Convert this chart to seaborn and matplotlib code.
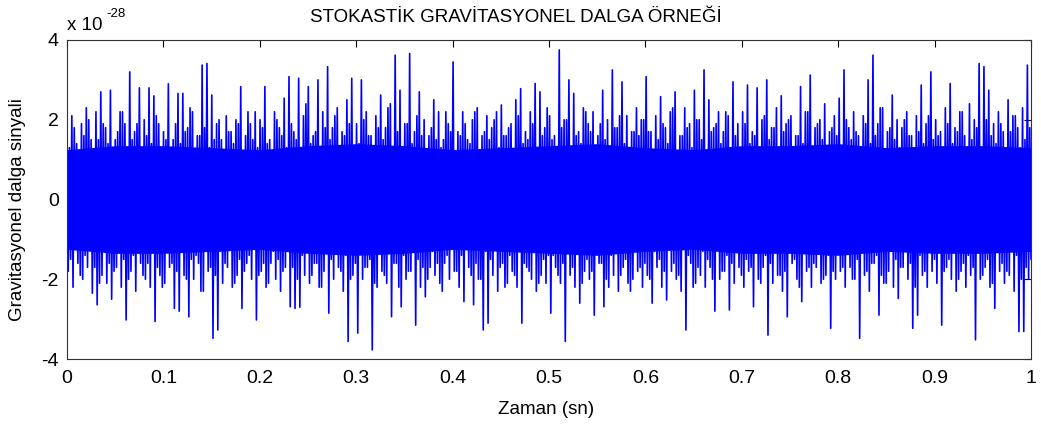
import numpy as np
import pandas as pd
import matplotlib
matplotlib.use("Agg")
import matplotlib.pyplot as plt
import seaborn as sns

# ---- data (signal in units of 1e-28), read/ ----
# large positive excursions, one every 0.005 s starting at t = 0
pos_peaks = [
    1.6, 2.1, 1.4, 1.9, 2.3, 1.5, 2.2, 2.7, 1.8, 2.74, 1.5, 2.2, 1.9, 3.2, 1.7, 2.8, 2.0, 2.8, 2.6, 1.9,
    1.7, 2.9, 1.5, 2.66, 2.66, 1.8, 2.2, 1.6, 3.37, 3.41, 2.62, 1.9, 1.5, 2.1, 1.7, 2.0, 2.83, 1.6, 1.9, 2.2,
    2.0, 2.83, 1.5, 2.2, 1.8, 2.54, 3.08, 1.7, 3.04, 2.1, 2.83, 1.6, 3.0, 2.2, 3.33, 1.8, 2.3, 1.7, 2.5, 3.04,
    1.9, 3.0, 2.2, 1.6, 2.1, 2.62, 1.8, 2.4, 3.62, 2.74, 1.9, 3.66, 1.7, 2.7, 2.0, 1.6, 2.5, 2.2, 1.5, 1.9,
    3.45, 1.7, 2.2, 1.5, 2.0, 2.3, 1.6, 2.1, 1.8, 2.2, 2.37, 1.6, 1.9, 2.5, 2.78, 1.7, 2.2, 2.91, 2.7, 1.8,
    2.1, 1.6, 3.75, 2.0, 3.0, 2.66, 1.7, 2.3, 1.9, 2.2, 1.6, 2.74, 2.0, 3.25, 1.8, 2.95, 2.1, 1.7, 2.3, 2.0,
    3.08, 1.7, 2.1, 2.58, 1.8, 2.2, 2.7, 1.6, 2.3, 1.9, 2.74, 2.0, 3.25, 2.5, 1.8, 2.2, 1.7, 2.1, 2.95, 1.9,
    2.2, 2.87, 1.7, 2.8, 2.0, 3.0, 1.8, 2.3, 2.6, 1.9, 2.1, 1.6, 2.83, 2.2, 3.12, 1.8, 2.0, 2.4, 1.7, 2.1,
    2.54, 3.25, 1.8, 2.2, 1.6, 2.1, 3.0, 3.62, 1.9, 2.3, 1.7, 2.62, 2.0, 1.8, 2.2, 1.6, 2.1, 2.87, 1.9, 3.2,
    2.0, 1.7, 2.3, 2.91, 1.8, 2.2, 1.6, 2.4, 2.0, 3.41, 3.33, 2.74, 1.9, 2.2, 1.7, 2.5, 2.1, 1.8, 2.3, 3.37,
]
# large negative excursions (magnitudes), one every 0.005 s, offset 0.00125 s
neg_troughs = [
    1.8, 2.2, 1.6, 2.0, 1.7, 2.35, 2.64, 1.9, 2.1, 2.5, 1.7, 2.2, 3.02, 1.8, 2.3, 1.6, 2.0, 2.2, 3.06, 1.9,
    2.1, 1.7, 2.73, 2.8, 1.9, 2.94, 2.0, 1.6, 2.3, 1.8, 3.48, 3.27, 2.1, 1.7, 2.2, 1.9, 2.73, 1.6, 2.0, 3.02,
    1.8, 2.2, 1.6, 2.0, 2.3, 1.7, 2.69, 2.73, 2.7, 1.9, 2.1, 1.6, 2.2, 1.8, 2.85, 2.0, 1.7, 2.3, 3.56, 1.9,
    3.35, 2.0, 1.7, 3.77, 2.2, 1.8, 2.1, 2.94, 1.6, 2.69, 2.0, 1.8, 3.15, 2.2, 2.44, 1.7, 1.9, 2.1, 1.6, 2.0,
    1.8, 2.2, 2.56, 1.7, 2.64, 2.0, 3.27, 3.1, 1.9, 2.3, 1.6, 2.1, 1.8, 2.2, 3.1, 1.7, 2.0, 2.3, 1.9, 2.1,
    2.85, 1.7, 2.1, 3.56, 1.9, 2.2, 2.6, 1.8, 2.0, 2.9, 1.6, 2.69, 2.2, 1.9, 2.3, 1.7, 2.1, 2.0, 1.8, 2.2,
    1.9, 2.6, 1.7, 2.2, 2.52, 1.8, 2.0, 2.3, 3.27, 1.6, 2.1, 1.9, 2.2, 1.7, 2.8, 2.0, 1.8, 2.77, 2.1, 1.7,
    2.2, 1.8, 2.69, 2.0, 1.7, 3.4, 2.1, 1.9, 2.3, 2.94, 1.6, 2.0, 2.56, 1.8, 2.2, 1.7, 2.1, 1.9, 3.23, 2.0,
    1.8, 2.2, 1.7, 2.0, 3.48, 1.9, 2.3, 1.6, 2.9, 2.1, 1.8, 2.2, 2.48, 1.7, 2.0, 3.23, 2.9, 1.9, 2.2, 1.8,
    2.1, 3.15, 1.7, 2.0, 2.3, 1.8, 2.2, 1.9, 3.52, 2.0, 1.7, 2.2, 2.73, 1.8, 2.1, 1.9, 2.3, 3.31, 3.31, 2.0,
]
# smaller positive excursions inside the dense band, offset 0.0025 s
fine_up = [
    1.3, 1.8, 1.1, 1.6, 2.0, 1.2, 1.5, 1.9, 1.4, 1.1, 1.7, 2.2, 1.3, 1.5, 1.9, 1.2, 1.6, 1.4, 2.1, 1.3,
    1.5, 1.2, 1.9, 1.4, 1.7, 2.3, 1.1, 1.6, 1.8, 1.3, 1.5, 2.0, 1.2, 1.7, 1.4, 1.9, 1.1, 2.2, 1.5, 1.3,
    1.8, 1.4, 1.2, 2.0, 1.6, 1.3, 1.9, 1.5, 1.1, 2.4, 1.4, 1.7, 1.2, 1.8, 1.5, 2.1, 1.3, 1.6, 1.9, 1.2,
    1.4, 2.0, 1.6, 1.2, 1.8, 1.5, 2.3, 1.3, 1.7, 1.1, 1.9, 1.4, 2.1, 1.6, 1.2, 1.8, 1.5, 1.3, 2.2, 1.7,
    1.2, 1.6, 1.9, 1.4, 2.2, 1.1, 1.7, 1.5, 2.0, 1.3, 1.6, 1.8, 1.2, 2.1, 1.4, 1.5, 1.9, 1.3, 1.6, 2.3,
    1.5, 1.3, 1.8, 2.0, 1.2, 1.6, 1.4, 2.2, 1.7, 1.1, 1.9, 1.5, 1.3, 1.8, 2.1, 1.4, 1.2, 1.7, 1.6, 2.0,
    1.7, 1.2, 1.5, 1.9, 1.4, 2.3, 1.1, 1.6, 1.8, 1.3, 2.0, 1.5, 1.2, 1.7, 1.9, 1.4, 2.2, 1.3, 1.6, 1.1,
    1.9, 1.4, 1.6, 1.2, 2.1, 1.5, 1.8, 1.3, 1.7, 2.0, 1.1, 1.6, 1.4, 2.2, 1.3, 1.9, 1.5, 1.2, 1.8, 1.6,
    1.3, 2.0, 1.5, 1.7, 1.2, 1.9, 1.4, 1.6, 2.3, 1.1, 1.8, 1.5, 1.3, 2.0, 1.6, 1.2, 1.7, 1.4, 2.1, 1.5,
    1.6, 1.2, 1.9, 1.4, 1.7, 2.2, 1.3, 1.5, 1.8, 1.1, 2.0, 1.6, 1.4, 1.9, 1.2, 1.7, 2.1, 1.3, 1.5, 1.8,
]
# smaller negative excursions (magnitudes) inside the dense band, offset 0.00375 s
fine_down = [
    1.5, 1.2, 1.9, 1.4, 1.1, 1.7, 2.1, 1.3, 1.6, 1.8, 1.2, 1.5, 2.0, 1.4, 1.1, 1.9, 1.6, 1.3, 1.7, 2.2,
    1.3, 1.6, 1.8, 1.2, 2.0, 1.5, 1.4, 2.3, 1.1, 1.7, 1.9, 1.3, 1.6, 1.2, 2.1, 1.5, 1.8, 1.4, 1.2, 1.9,
    1.6, 2.1, 1.3, 1.5, 1.8, 1.2, 1.7, 2.0, 1.4, 1.1, 1.9, 1.6, 2.2, 1.3, 1.5, 1.2, 1.8, 1.4, 2.0, 1.6,
    1.2, 1.7, 1.5, 2.1, 1.3, 1.9, 1.1, 1.6, 2.2, 1.4, 1.8, 1.2, 1.5, 1.7, 2.0, 1.3, 1.6, 2.3, 1.4, 1.1,
    1.8, 1.4, 1.2, 1.9, 1.6, 2.0, 1.3, 1.5, 1.1, 1.7, 2.2, 1.4, 1.9, 1.2, 1.6, 1.8, 1.3, 2.1, 1.5, 1.4,
    1.4, 1.9, 1.6, 1.2, 1.7, 1.3, 2.1, 1.5, 1.8, 1.1, 1.6, 2.0, 1.4, 1.2, 1.9, 1.5, 2.3, 1.3, 1.7, 1.6,
    2.0, 1.3, 1.5, 1.8, 1.1, 1.6, 1.9, 1.2, 1.4, 2.2, 1.7, 1.3, 1.5, 2.0, 1.2, 1.8, 1.4, 1.6, 1.1, 1.9,
    1.5, 1.7, 1.2, 2.1, 1.4, 1.6, 1.3, 1.9, 1.8, 1.1, 1.5, 2.2, 1.3, 1.7, 1.6, 1.2, 2.0, 1.4, 1.8, 1.3,
    1.7, 1.3, 2.0, 1.5, 1.2, 1.8, 1.6, 1.4, 1.9, 2.1, 1.3, 1.5, 1.7, 1.1, 1.6, 2.2, 1.4, 1.8, 1.2, 1.5,
    1.2, 1.8, 1.5, 1.3, 2.0, 1.6, 1.4, 1.7, 1.1, 1.9, 1.5, 2.1, 1.3, 1.6, 1.8, 1.2, 1.4, 2.0, 1.7, 1.5,
]
# half-width of the solid core of the band, every 0.05 s
core_t = [0.0, 0.05, 0.10, 0.15, 0.20, 0.25, 0.30, 0.35, 0.40, 0.45, 0.50,
          0.55, 0.60, 0.65, 0.70, 0.75, 0.80, 0.85, 0.90, 0.95, 1.0]
core_half = [1.25, 1.35, 1.35, 1.3, 1.25, 1.35, 1.4, 1.35, 1.25, 1.3, 1.35,
             1.4, 1.3, 1.25, 1.35, 1.35, 1.4, 1.3, 1.35, 1.35, 1.3]

title = "STOKASTİK GRAVİTASYONEL DALGA ÖRNEĞİ"
xlabel = "Zaman (sn)"
ylabel = "Gravitasyonel dalga sinyali"
xticks = [0, 0.1, 0.2, 0.3, 0.4, 0.5, 0.6, 0.7, 0.8, 0.9, 1]
xticklabels = ["0", "0.1", "0.2", "0.3", "0.4", "0.5", "0.6", "0.7", "0.8", "0.9", "1"]
yticks = [-4, -2, 0, 2, 4]
yticklabels = ["-4", "-2", "0", "2", "4"]

# ---- build the series: per 0.005 s block -> peak, trough, fine up, fine down ----
n = len(pos_peaks)
signal = np.empty(4 * n)
signal[0::4] = np.array(pos_peaks)
signal[1::4] = -np.array(neg_troughs)
signal[2::4] = np.array(fine_up)
signal[3::4] = -np.array(fine_down)
t = np.arange(4 * n) / (4 * n - 1)
df = pd.DataFrame({"t": t, "h": signal})

sns.set_theme(style="white")
plt.rcParams["font.family"] = ["Liberation Sans", "DejaVu Sans"]
plt.rcParams["axes.unicode_minus"] = False
plt.rcParams["text.color"] = "black"

W, H = 1041, 426
fig = plt.figure(figsize=(W / 100, H / 100), dpi=100)
ax = fig.add_axes([67 / W, 1 - 359 / H, (1031 - 67) / W, (359 - 40) / H])

blue = (0.0, 0.0, 1.0)
ax.fill_between(core_t, [-v for v in core_half], core_half, color=blue, lw=0, zorder=1)
sns.lineplot(data=df, x="t", y="h", ax=ax, color=blue, lw=1.2,
             estimator=None, sort=False, zorder=2)

ax.set_xlim(0, 1)
ax.set_ylim(-4, 4)
ax.set_xticks(xticks)
ax.set_xticklabels(xticklabels)
ax.set_yticks(yticks)
ax.set_yticklabels(yticklabels)
ax.tick_params(axis="both", direction="in", length=5, width=0.8, colors="black",
               labelsize=14, top=True, right=True)
ax.tick_params(axis="x", pad=8)
ax.tick_params(axis="y", pad=6)
for sp in ax.spines.values():
    sp.set_color("#333333")
    sp.set_linewidth(0.8)
ax.set_xlabel("")
ax.set_ylabel("")

fig.text(546 / W, 1 - 410 / H, xlabel, fontsize=13.5, ha="center", va="center", color="black")
fig.text(18 / W, 1 - 210 / H, ylabel, fontsize=13.5, ha="center", va="center",
         rotation=90, color="black")
fig.text(516 / W, 1 - 18 / H, title, fontsize=13.5, ha="center", va="center", color="black")
fig.text(67 / W, 1 - 30 / H, "x 10", fontsize=13.5, ha="left", va="baseline", color="black")
fig.text(106 / W, 1 - 17 / H, "-28", fontsize=9.5, ha="left", va="baseline", color="black")

fig.savefig("out.png", dpi=100, facecolor="white")
